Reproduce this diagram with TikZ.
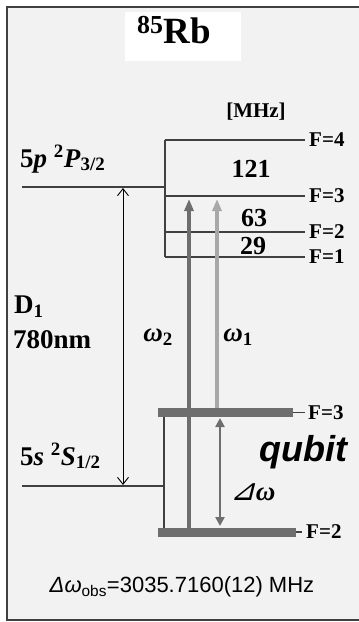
\documentclass[tikz,border=0pt]{standalone}
\usepackage{fontspec}
\setmainfont{Liberation Serif}
\setsansfont{Liberation Sans}
\newfontfamily\trifont[FakeSlant=0.25]{DejaVu Sans}
\usetikzlibrary{arrows.meta, positioning}
\definecolor{panelgray}{HTML}{F2F2F2}
\definecolor{framegray}{HTML}{404040}
\definecolor{beamdark}{HTML}{6E6E6E}
\definecolor{beamlight}{HTML}{A8A8A8}

\begin{document}
\begin{tikzpicture}[
    x=1pt, y=-1pt,
    level/.style={draw=framegray, line width=1.1pt},
    bar/.style={draw=beamdark, line width=9pt},
    bigtext/.style={font=\fontsize{27}{30}\selectfont\bfseries, inner sep=0pt},
    flabel/.style={font=\fontsize{21}{23}\selectfont\bfseries, inner sep=0pt},
    splitting/.style={font=\fontsize{26}{28}\selectfont\bfseries, inner sep=0pt},
    beam/.style={-{Triangle[length=12pt, width=9pt]}, line width=4pt},
    thin arrow/.style={{Straight Barb[length=7pt, width=11pt]}-{Straight Barb[length=7pt, width=11pt]}, line width=0.9pt}
]
\useasboundingbox (0,0) rectangle (359,622);

% panel
\fill[panelgray] (7,7) rectangle (359,620);
\draw[framegray, line width=2pt] (359,7) -- (7,7) -- (7,620) -- (359,620);

\node[fill=white, minimum width=116pt, minimum height=49pt] (titlebox) at (183,36.5) {};
\node[font=\fontsize{37}{39}\selectfont\bfseries, inner sep=0pt, anchor=base] (title) at (174,43) {\textsuperscript{85}Rb};

% 5p hyperfine levels
\coordinate (p4l) at (165,140); \coordinate (p4r) at (305,140);
\coordinate (p3l) at (165,196); \coordinate (p3r) at (305,196);
\coordinate (p2l) at (166,232); \coordinate (p2r) at (305,232);
\coordinate (p1l) at (165,257); \coordinate (p1r) at (305,257);
\coordinate (pl) at (22,187); \coordinate (pr) at (165,187);

\draw[level] (p4l) -- (p4r);
\draw[level] (p3l) -- (p3r);
\draw[level] (p2l) -- (p2r);
\draw[level] (p1l) -- (p1r);
\draw[level] (p4l) -- (p1l);
\draw[level] (pl) -- (pr);

\node[flabel, right=4pt of p4r] (f4) {F=4};
\node[flabel, right=4pt of p3r] (f3) {F=3};
\node[flabel, right=4pt of p2r] (f2) {F=2};
\node[flabel, right=4pt of p1r] (f1) {F=1};

\node[flabel] (mhz) at (256,112) {[MHz]};
\node[splitting] (s121) at (251,169) {121};
\node[splitting] (s63) at (254,218) {63};
\node[splitting] (s29) at (253,246) {29};

\node[bigtext, anchor=base west] (plabel) at (20,167) {5\textit{p} \textsuperscript{2}\textit{P}\textsubscript{3/2}};

% 5s ground levels
\coordinate (sl) at (22,486); \coordinate (sr) at (164,486);
\coordinate (gv3) at (164,417); \coordinate (gv2) at (164,528);
\coordinate (g3l) at (158,412.5); \coordinate (g3r) at (293,412.5); \coordinate (g3e) at (305,412.5);
\coordinate (g2l) at (158,532); \coordinate (g2r) at (296,532); \coordinate (g2e) at (302,532);

\draw[level] (sl) -- (sr);
\draw[level] (gv3) -- (gv2);
\draw[bar] (g3l) -- (g3r);
\draw[level] (g3r) -- (g3e);
\draw[bar] (g2l) -- (g2r);
\draw[level] (g2r) -- (g2e);

\node[flabel, right=3pt of g3e] (g3lab) {F=3};
\node[flabel, right=4pt of g2e] (g2lab) {F=2};

\node[bigtext, anchor=base west] (slabel) at (20,465) {5\textit{s} \textsuperscript{2}\textit{S}\textsubscript{1/2}};

% D1 line
\coordinate (dtop) at (123,188); \coordinate (dbot) at (123,485);
\draw[thin arrow] (dtop) -- (dbot);
\node[bigtext, anchor=west] (d1) at (14,307) {D\textsubscript{1}};
\node[bigtext, anchor=west] (wl) at (13,340) {780nm};

% Raman beams
\coordinate (w2s) at (189,528); \coordinate (w2t) at (189,199);
\coordinate (w1s) at (217,408); \coordinate (w1t) at (217,199);
\draw[beam, beamdark] (w2s) -- (w2t);
\draw[beam, beamlight, line width=3.5pt] (w1s) -- (w1t);
\node[bigtext] (w2) at (158,337) {\textit{ω}\textsubscript{2}};
\node[bigtext] (w1) at (238,337) {\textit{ω}\textsubscript{1}};

% qubit splitting
\coordinate (qt) at (220,418); \coordinate (qb) at (220,526);
\draw[{Triangle[length=9pt, width=9pt]}-{Triangle[length=9pt, width=9pt]}, beamdark, line width=2.5pt] (qt) -- (qb);
\node[font=\fontsize{36}{38}\selectfont\sffamily\bfseries\itshape, inner sep=0pt] (qubit) at (303,452) {qubit};
\node[bigtext] (dw) at (253,492) {{\trifont\mdseries\fontsize{30}{32}\selectfont ⊿}\textit{ω}};

\node[font=\fontsize{22}{24}\selectfont\sffamily, inner sep=0pt] (obs) at (182,587) {\textit{Δω}\textsubscript{obs}=3035.7160(12) MHz};
\end{tikzpicture}
\end{document}
